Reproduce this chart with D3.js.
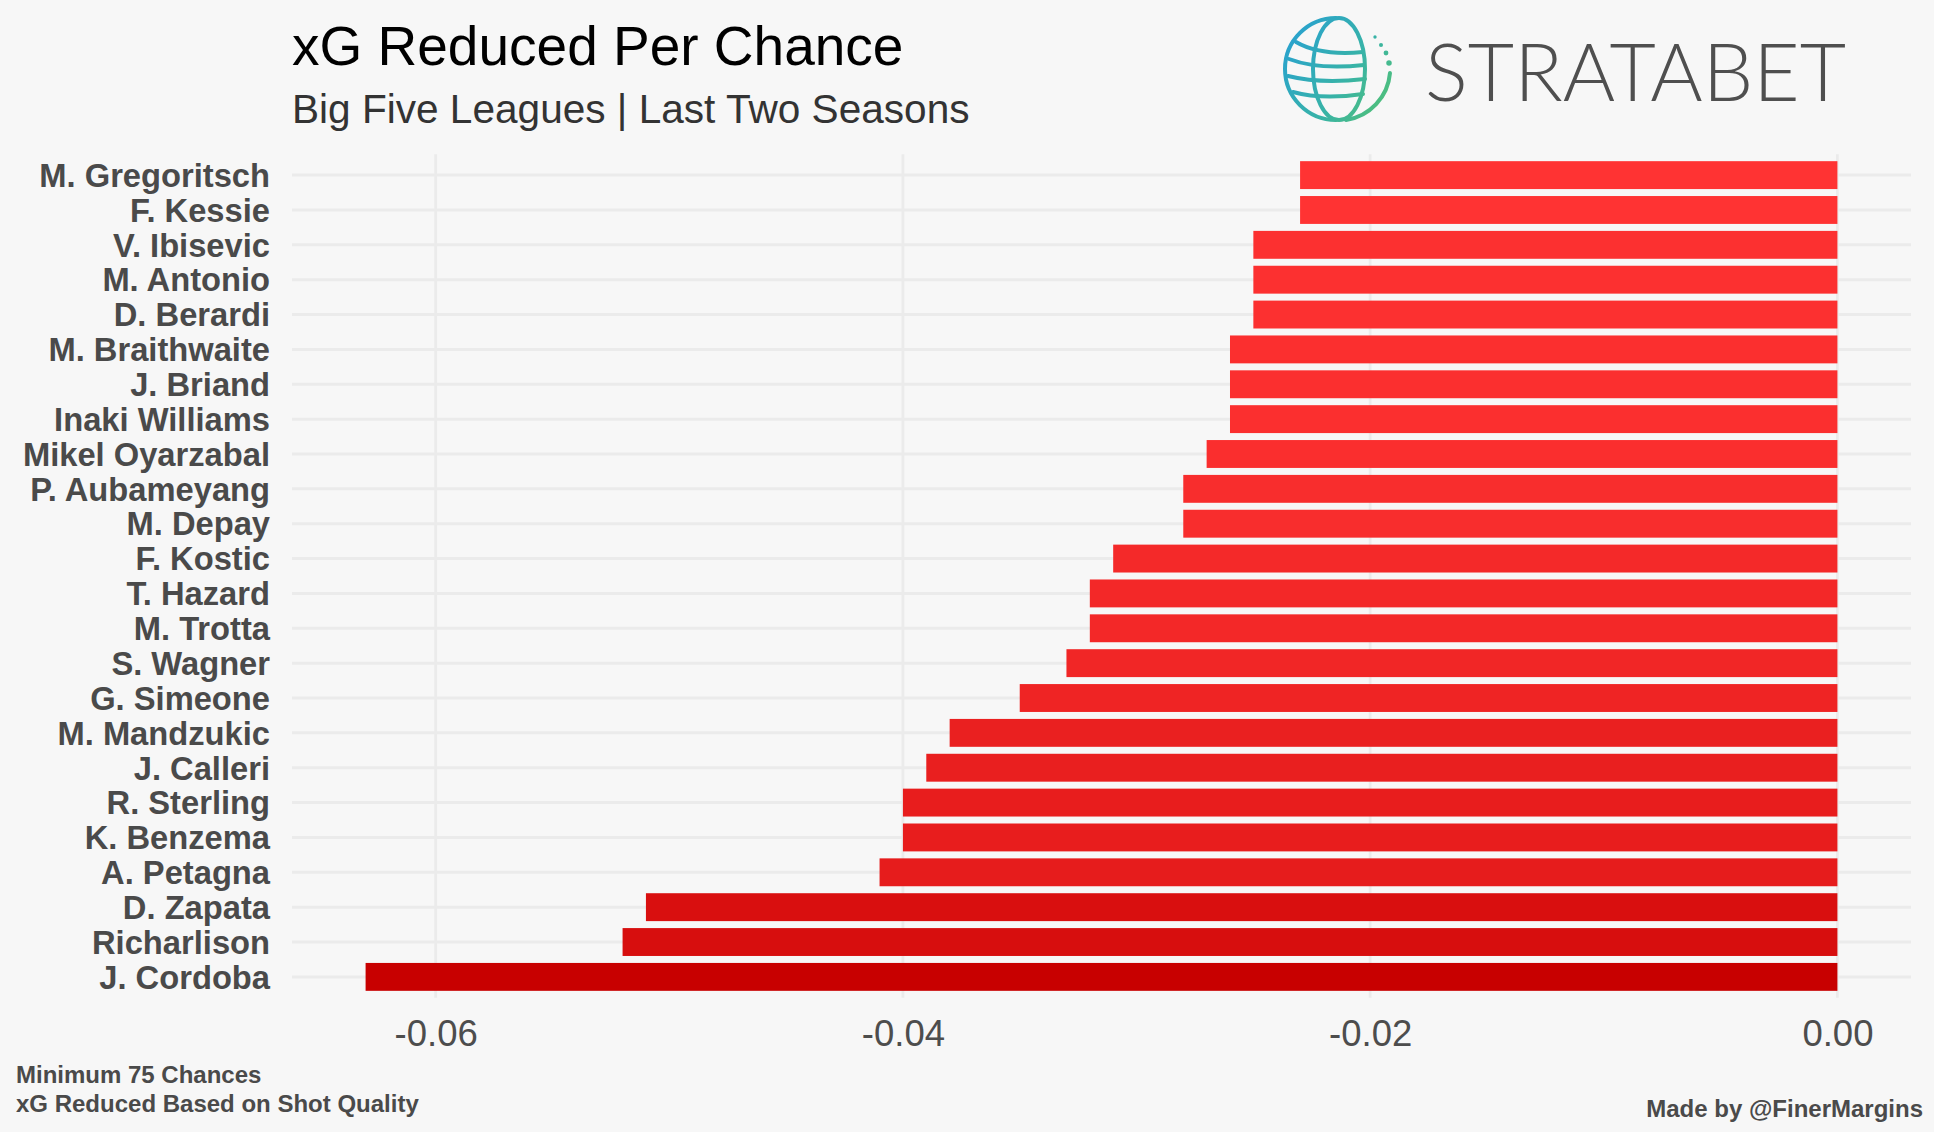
<!DOCTYPE html>
<html>
<head>
<meta charset="utf-8">
<script src="https://cdn.jsdelivr.net/npm/d3@7/dist/d3.min.js"></script>
<style>
  html, body { margin: 0; padding: 0; background: #f7f7f7; }
  svg { display: block; }
</style>
</head>
<body>
<svg id="chart" width="1934" height="1132"></svg>
<script>
// ---- data ----
const players = ["M. Gregoritsch","F. Kessie","V. Ibisevic","M. Antonio","D. Berardi","M. Braithwaite","J. Briand","Inaki Williams","Mikel Oyarzabal","P. Aubameyang","M. Depay","F. Kostic","T. Hazard","M. Trotta","S. Wagner","G. Simeone","M. Mandzukic","J. Calleri","R. Sterling","K. Benzema","A. Petagna","D. Zapata","Richarlison","J. Cordoba"];
const xgReduced = [-0.023,-0.023,-0.025,-0.025,-0.025,-0.026,-0.026,-0.026,-0.027,-0.028,-0.028,-0.031,-0.032,-0.032,-0.033,-0.035,-0.038,-0.039,-0.040,-0.040,-0.041,-0.051,-0.052,-0.063];
const tickValues = [-0.06,-0.04,-0.02,0.00];
const tickLabels = ["-0.06","-0.04","-0.02","0.00"];
const titleText = "xG Reduced Per Chance";
const subtitleText = "Big Five Leagues | Last Two Seasons";
const captionLeft = ["Minimum 75 Chances","xG Reduced Based on Shot Quality"];
const captionRight = "Made by @FinerMargins";

const data = players.map((p,i)=>({name:p, value:xgReduced[i]}));

const svg = d3.select("#chart");
const W = 1934, H = 1132;
svg.append("rect").attr("width",W).attr("height",H).attr("fill","#f7f7f7");

const font = "'Liberation Sans', Arial, Helvetica, sans-serif";
const panel = {left:292, right:1911, top:154.2, bottom:997.8};

const vmin = d3.min(xgReduced), vmax = 0;
const pad = (vmax - vmin)*0.05;
const x = d3.scaleLinear().domain([vmin - pad, vmax + pad]).range([panel.left, panel.right]);
const y = d3.scaleBand().domain(players).range([panel.top, panel.bottom]).paddingInner(0.2).paddingOuter(0.2);
const color = d3.scaleLinear().domain([vmin, d3.max(xgReduced)]).range(["#c80000","#ff3333"]).interpolate(d3.interpolateRgb);

// grid
const grid = svg.append("g");
grid.selectAll("line.v").data(tickValues).join("line")
  .attr("x1",d=>x(d)).attr("x2",d=>x(d))
  .attr("y1",panel.top).attr("y2",panel.bottom)
  .attr("stroke","#ebebeb").attr("stroke-width",2.8);
grid.selectAll("line.h").data(players).join("line")
  .attr("x1",panel.left).attr("x2",panel.right)
  .attr("y1",d=>y(d)+y.bandwidth()/2).attr("y2",d=>y(d)+y.bandwidth()/2)
  .attr("stroke","#ebebeb").attr("stroke-width",3);

// bars
svg.append("g").selectAll("rect").data(data).join("rect")
  .attr("x",d=>x(Math.min(d.value,0)))
  .attr("width",d=>Math.abs(x(d.value)-x(0)))
  .attr("y",d=>y(d.name))
  .attr("height",y.bandwidth())
  .attr("fill",d=>color(d.value));

// y axis labels
const yAxis = d3.axisLeft(y).tickSize(0).tickPadding(22);
const gy = svg.append("g").attr("transform",`translate(${panel.left},0)`).call(yAxis);
gy.select(".domain").remove();
gy.selectAll("text").attr("font-family",font).attr("font-weight","bold")
  .attr("font-size",32.7).attr("fill","#4a4a4a").attr("dy","0.36em");

// x axis labels
const xAxis = d3.axisBottom(x).tickValues(tickValues).tickSize(0).tickPadding(0)
  .tickFormat((d,i)=>tickLabels[i]);
const gx = svg.append("g").attr("transform",`translate(0,1046)`).call(xAxis);
gx.select(".domain").remove();
gx.selectAll("text").attr("font-family",font).attr("font-size",36.5)
  .attr("fill","#4d4d4d").attr("dy",0).attr("y",0);

// titles
svg.append("text").attr("x",292).attr("y",65).text(titleText)
  .attr("font-family",font).attr("font-size",55).attr("fill","#000");
svg.append("text").attr("x",292).attr("y",123).text(subtitleText)
  .attr("font-family",font).attr("font-size",40.6).attr("fill","#333");

// captions
svg.append("g").selectAll("text").data(captionLeft).join("text")
  .attr("x",16).attr("y",(d,i)=>1083+i*28.5).text(d=>d)
  .attr("font-family",font).attr("font-weight","bold").attr("font-size",24).attr("fill","#4a4a4a");
svg.append("text").attr("x",1923).attr("y",1117).attr("text-anchor","end").text(captionRight)
  .attr("font-family",font).attr("font-weight","bold").attr("font-size",24).attr("fill","#4a4a4a");

// logo
const defs = svg.append("defs");
const lg = defs.append("linearGradient").attr("id","globeGrad")
  .attr("gradientUnits","userSpaceOnUse")
  .attr("x1",1290).attr("y1",40).attr("x2",1395).attr("y2",110);
lg.append("stop").attr("offset","0%").attr("stop-color","#2aa3cc");
lg.append("stop").attr("offset","55%").attr("stop-color","#38b3a6");
lg.append("stop").attr("offset","100%").attr("stop-color","#55c271");
const logo = svg.append("g").attr("fill","none").attr("stroke","url(#globeGrad)").attr("stroke-width",4).attr("stroke-linecap","round");
// outer circle, left half
logo.append("path").attr("d","M1336,18 A51,51 0 0 0 1336,120");
// meridian ellipse
logo.append("ellipse").attr("cx",1339).attr("cy",69).attr("rx",26).attr("ry",51);
// latitude lines
logo.append("path").attr("d","M1296,42 Q1320,56 1363,52");
logo.append("path").attr("d","M1289,59 Q1318,70 1364,65");
logo.append("path").attr("d","M1288,76 Q1320,84 1365,79");
logo.append("path").attr("d","M1293,92 Q1322,100 1363,94");
// orbit arc right bottom
logo.append("path").attr("d","M1390,73 A52,52 0 0 1 1346,120");
// dots
const dots = [[1375,37],[1381,45],[1386,53],[1389,63]];
svg.append("g").selectAll("circle").data(dots).join("circle")
  .attr("cx",d=>d[0]).attr("cy",d=>d[1]).attr("r",(d,i)=>1.7+i*0.35)
  .attr("fill","url(#globeGrad)");
svg.append("text").attr("x",1425).attr("y",101).text("STRATABET")
  .attr("font-family","Lato, 'Open Sans', sans-serif").attr("font-weight",300)
  .attr("font-size",80).attr("fill","#4f4f4f")
  .attr("textLength",421).attr("lengthAdjust","spacing");
</script>
</body>
</html>
